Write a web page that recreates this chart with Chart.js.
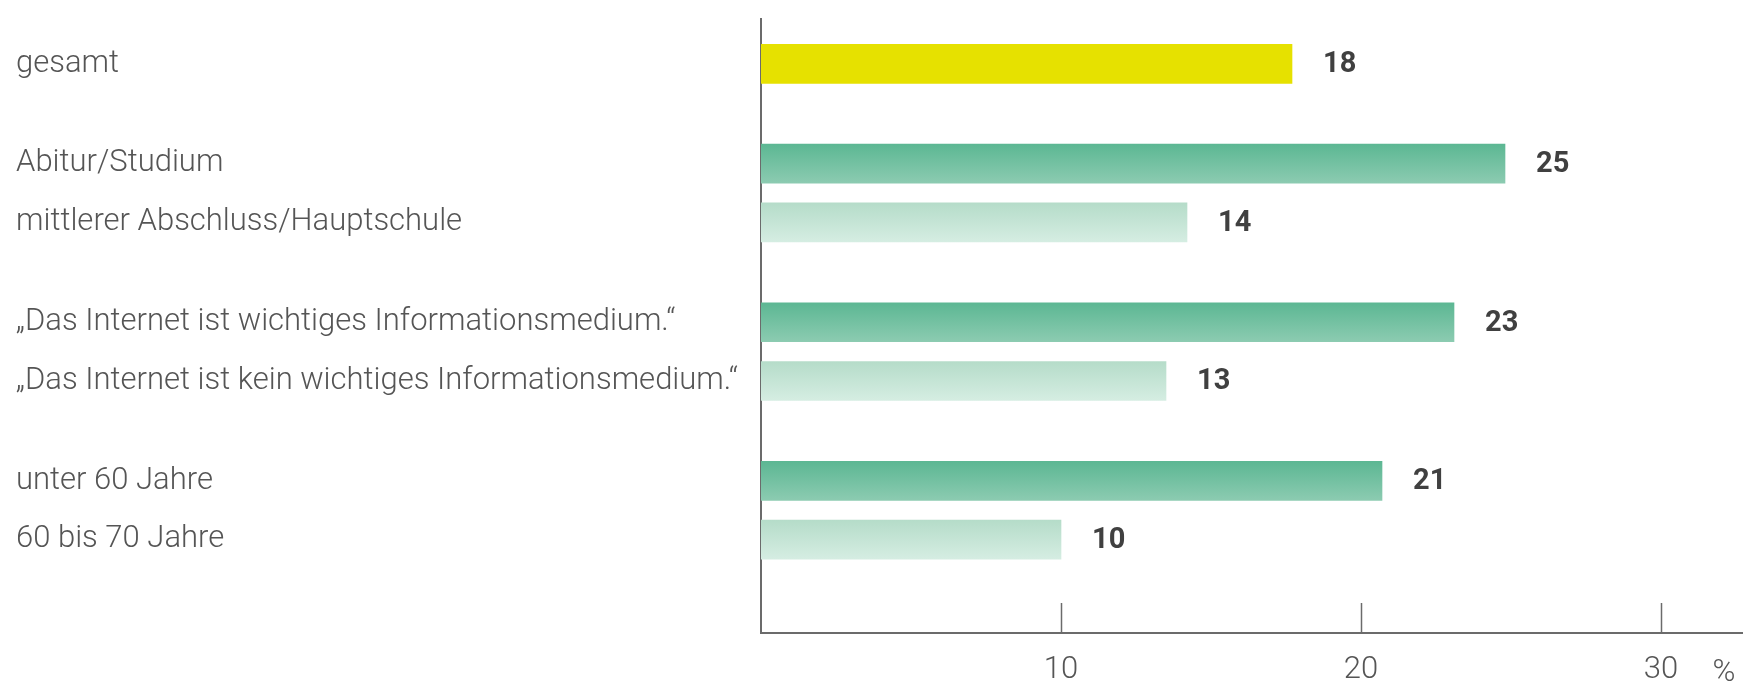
<!DOCTYPE html>
<html><head><meta charset="utf-8">
<script src="https://cdn.jsdelivr.net/npm/chart.js@4.4.0/dist/chart.umd.min.js"></script>
<style>html,body{margin:0;padding:0;background:#fff;overflow:hidden}#wrap{width:1753px;height:684px}</style>
</head><body><div id="wrap"><canvas id="c" width="1753" height="684"></canvas></div>
<script>
// ---- data ----
const categories = [
  'gesamt',
  'Abitur/Studium',
  'mittlerer Abschluss/Hauptschule',
  '\u201EDas Internet ist wichtiges Informationsmedium.\u201C',
  '\u201EDas Internet ist kein wichtiges Informationsmedium.\u201C',
  'unter 60 Jahre',
  '60 bis 70 Jahre'
];
const values = [17.7, 24.8, 14.2, 23.1, 13.5, 20.7, 10.0];
const valueLabels = ['18', '25', '14', '23', '13', '21', '10'];
const groupSizes = [1, 2, 2, 2];
const barKinds = ['total', 'high', 'low', 'high', 'low', 'high', 'low'];
const xTicks = [10, 20, 30];
const xUnit = '%';

// ---- layout helpers ----
const GROUP_GAP = 0.7;
const positions = [];
(function(){ let p = 0; groupSizes.forEach((n, g) => { if (g > 0) p += GROUP_GAP; for (let i = 0; i < n; i++) { positions.push(p); p += 1; } }); })();

const BAR_T = 39;
const AXIS_COLOR = '#6b6b6b';
const LABEL_FONT = 'Roboto';
const TICK_FONT_SIZE = 31;
const TICK_PAD = 11;

function fill(c) {
  const chart = c.chart, i = c.dataIndex, kind = barKinds[i];
  if (kind === 'total') return '#e6e100';
  const ys = chart.scales.y;
  if (!ys || !chart.chartArea) return kind === 'high' ? '#72c1a1' : '#c5e5d6';
  const cy = ys.getPixelForValue(positions[i]);
  const g = chart.ctx.createLinearGradient(0, cy - BAR_T / 2, 0, cy + BAR_T / 2);
  if (kind === 'high') { g.addColorStop(0, '#5cb793'); g.addColorStop(1, '#8ccbb1'); }
  else { g.addColorStop(0, '#b5dcc9'); g.addColorStop(1, '#d5ede2'); }
  return g;
}

const valuePlugin = {
  id: 'vals',
  afterDatasetsDraw(chart) {
    const meta = chart.getDatasetMeta(0), ctx = chart.ctx;
    ctx.save();
    ctx.font = 'bold 29px ' + LABEL_FONT;
    ctx.fillStyle = '#404040';
    ctx.textBaseline = 'middle';
    ctx.textAlign = 'left';
    meta.data.forEach((bar, i) => ctx.fillText(valueLabels[i], bar.x + 31, bar.y + 1));
    ctx.restore();
  }
};

const tickPlugin = {
  id: 'xtickmarks',
  afterDraw(chart) {
    const xs = chart.scales.x, ctx = chart.ctx, yb = chart.chartArea.bottom;
    ctx.save();
    ctx.strokeStyle = AXIS_COLOR;
    ctx.lineWidth = 1.5;
    xTicks.forEach(v => {
      const px = Math.round(xs.getPixelForValue(v)) + 0.5;
      ctx.beginPath(); ctx.moveTo(px, yb); ctx.lineTo(px, yb - 30); ctx.stroke();
    });
    // unit label to the right of the last tick
    ctx.font = '300 ' + TICK_FONT_SIZE + 'px ' + LABEL_FONT;
    ctx.fillStyle = '#555';
    ctx.textAlign = 'center';
    ctx.textBaseline = 'middle';
    ctx.fillText(xUnit, xs.getPixelForValue(32.1), xs.top + TICK_PAD + TICK_FONT_SIZE * 0.6 + 11);
    ctx.restore();
  }
};

new Chart(document.getElementById('c'), {
  type: 'bar',
  data: {
    datasets: [{
      data: values.map((v, i) => ({ x: v, y: positions[i] })),
      backgroundColor: fill,
      borderWidth: 0,
      barThickness: BAR_T
    }]
  },
  options: {
    indexAxis: 'y',
    responsive: false,
    animation: false,
    devicePixelRatio: 1,
    layout: { padding: { left: 16, top: 9, right: 11, bottom: 0 } },
    plugins: { legend: { display: false }, tooltip: { enabled: false } },
    scales: {
      x: {
        type: 'linear', min: 0, max: 32.7, offset: false,
        afterBuildTicks: s => { s.ticks = xTicks.map(v => ({ value: v })); },
        afterFit: s => { s.height = 51; },
        ticks: {
          autoSkip: false, padding: TICK_PAD, color: '#555',
          font: { family: LABEL_FONT, size: TICK_FONT_SIZE, weight: 300 },
          callback: v => String(v)
        },
        grid: { display: false },
        border: { display: true, color: AXIS_COLOR, width: 2 }
      },
      y: {
        type: 'linear', min: -0.77, max: 9.69, reverse: true, offset: false,
        afterBuildTicks: s => { s.ticks = positions.map(v => ({ value: v })); },
        afterFit: s => { s.width = 745; },
        ticks: {
          autoSkip: false, padding: 0, crossAlign: 'far', color: '#555',
          font: { family: LABEL_FONT, size: 31, weight: 300 },
          callback: (v, i) => categories[i]
        },
        grid: { display: false },
        border: { display: true, color: AXIS_COLOR, width: 2 }
      }
    }
  },
  plugins: [valuePlugin, tickPlugin]
});
</script>
</body></html>
